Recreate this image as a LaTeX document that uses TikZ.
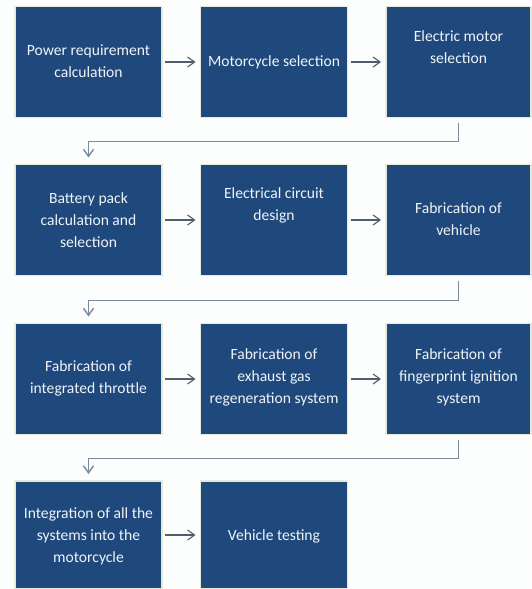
\documentclass[tikz,border=0pt]{standalone}
\usepackage{fontspec}
\setmainfont{Carlito}
\usetikzlibrary{arrows.meta}
\definecolor{boxblue}{HTML}{1F497D}
\definecolor{halo}{HTML}{E6EAD8}
\definecolor{arrowgray}{HTML}{4F5D6C}
\definecolor{elbowgray}{HTML}{7A8BA0}
\definecolor{txtcol}{HTML}{F0F3F7}
\definecolor{bgcol}{HTML}{FCFDFD}
\begin{document}
\begin{tikzpicture}[x=1pt,y=-1pt,
  stepbox/.style={rectangle,fill=boxblue,draw=halo,line width=1.2pt,outer sep=0pt,minimum width=147pt,minimum height=111pt,inner sep=0pt},
  lastbox/.style={stepbox,minimum height=108pt},
  rightbox/.style={stepbox,minimum width=145pt},
  label/.style={text=txtcol,align=center,inner sep=0pt,font=\fontsize{15.6}{22}\selectfont},
  flow/.style={draw=arrowgray,line width=1.1pt,-{Straight Barb[length=7pt,width=10pt]},shorten <=3pt,shorten >=5pt},
  elbow/.style={draw=elbowgray,line width=1.4pt,-{Straight Barb[length=7pt,width=10pt]},shorten <=5pt,shorten >=7pt}]
\fill[bgcol] (0,0) rectangle (531,589);
\useasboundingbox (0,0) rectangle (531,589);
% boxes
\node[stepbox] (b1) at (88.5,62) {};
\node[stepbox] (b2) at (274,62) {};
\node[rightbox] (b3) at (458.5,62) {};
\node[stepbox] (b4) at (88.5,220) {};
\node[stepbox] (b5) at (274,220) {};
\node[rightbox] (b6) at (458.5,220) {};
\node[stepbox] (b7) at (88.5,379) {};
\node[stepbox] (b8) at (274,379) {};
\node[rightbox] (b9) at (458.5,379) {};
\node[lastbox] (b10) at (88.5,535) {};
\node[lastbox] (b11) at (274,535) {};
% texts
\node[label] (t1) at (88.5,61) {Power requirement\\calculation};
\node[label] (t2) at (274,62) {Motorcycle selection};
\node[label] (t3) at (458.5,47) {Electric motor\\selection};
\node[label] (t4) at (88.5,220) {Battery pack\\calculation and\\selection};
\node[label] (t5) at (274,205) {Electrical circuit\\design};
\node[label] (t6) at (458.5,219) {Fabrication of\\vehicle};
\node[label] (t7) at (88.5,378) {Fabrication of\\integrated throttle};
\node[label] (t8) at (274,377) {Fabrication of\\exhaust gas\\regeneration system};
\node[label] (t9) at (458.5,377) {Fabrication of\\fingerprint ignition\\system};
\node[label] (t10) at (88.5,536) {Integration of all the\\systems into the\\motorcycle};
\node[label] (t11) at (274,536) {Vehicle testing};
% connectors
\draw[flow] (b1) -- (b2);
\draw[flow] (b2) -- (b3);
\draw[flow] (b4) -- (b5);
\draw[flow] (b5) -- (b6);
\draw[flow] (b7) -- (b8);
\draw[flow] (b8) -- (b9);
\draw[flow] (b10) -- (b11);
\draw[elbow] (b3.south) -- ++(0,24) -| (b4.north);
\draw[elbow] (b6.south) -- ++(0,25) -| (b7.north);
\draw[elbow] (b9.south) -- ++(0,24) -| (b10.north);
\end{tikzpicture}
\end{document}
